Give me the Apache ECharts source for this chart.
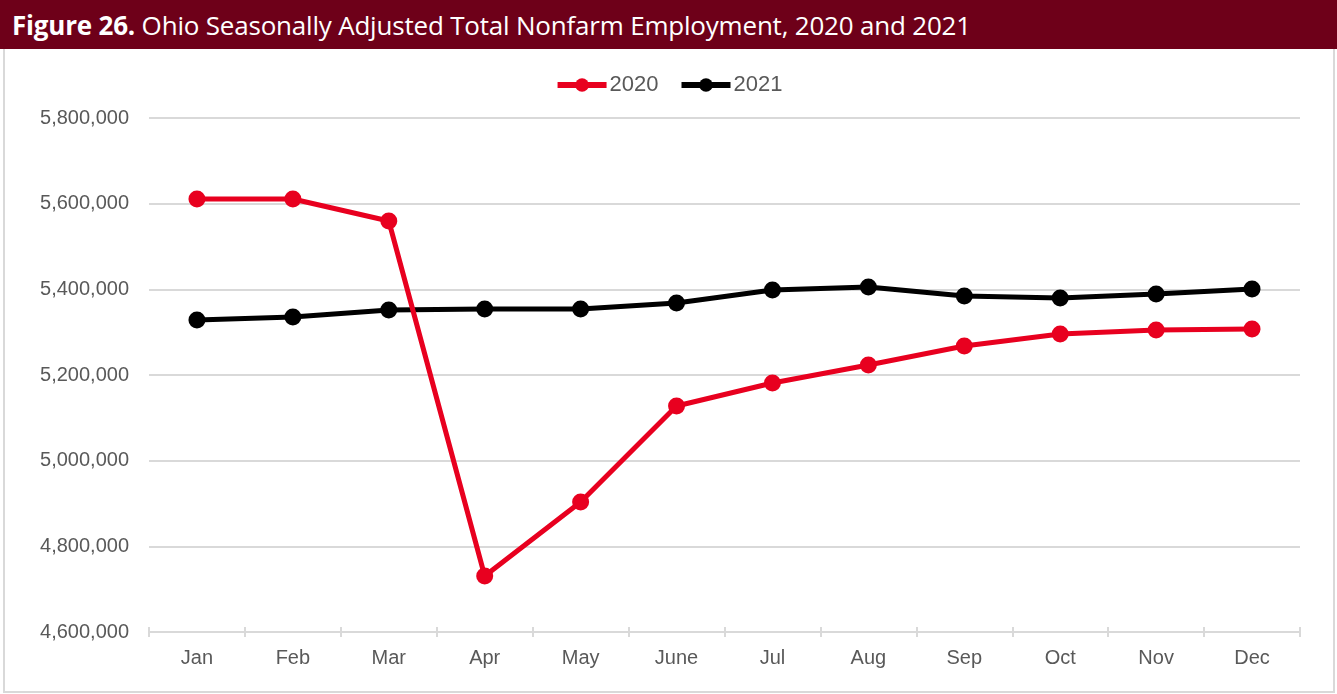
<!DOCTYPE html>
<html>
<head>
<meta charset="utf-8">
<script src="https://cdn.jsdelivr.net/npm/echarts@6/dist/echarts.min.js"></script>
<style>
  html, body { margin: 0; padding: 0; background: #fff; }
  #wrap { position: relative; width: 1337px; height: 694px; overflow: hidden; }
  #title {
    position: absolute; left: 0; top: 0; width: 1337px; height: 49px;
    background: #6E0019; color: #fff; box-sizing: border-box;
    padding-left: 12px; line-height: 50px;
    font-family: "Open Sans", "Noto Sans", sans-serif; font-size: 26px;
    letter-spacing: -0.2px; white-space: nowrap;
  }
  #title b { font-weight: 700; }
  #frame {
    position: absolute; left: 3px; top: 49px; width: 1328px; height: 642px;
    border: 2px solid #d9d9d9; border-top: none; box-sizing: content-box;
  }
  #chart { position: absolute; left: 0; top: 49px; width: 1337px; height: 645px; }
</style>
</head>
<body>
<div id="wrap">
  <div id="title"><b>Figure 26.</b> Ohio Seasonally Adjusted Total Nonfarm Employment, 2020 and 2021</div>
  <div id="frame"></div>
  <div id="chart"></div>
</div>
<script>
// Monthly nonfarm employment, Ohio (seasonally adjusted)
const months = ['Jan', 'Feb', 'Mar', 'Apr', 'May', 'June', 'Jul', 'Aug', 'Sep', 'Oct', 'Nov', 'Dec'];
const jobs2020 = [5611000, 5611000, 5559500, 4730700, 4903500, 5127600, 5181300, 5223400, 5267700, 5295700, 5305000, 5307400];
const jobs2021 = [5328400, 5335400, 5351800, 5354100, 5354100, 5368100, 5398400, 5405400, 5384400, 5379800, 5389100, 5400800];
const yTicks = { min: 4600000, max: 5800000, step: 200000 };

const chart = echarts.init(document.getElementById('chart'), null, { renderer: 'canvas' });
const labelFont = '"Liberation Sans", Arial, sans-serif';
const fmt = v => v.toLocaleString('en-US');

function lineSeries(name, data, color) {
  return {
    name, type: 'line', data,
    symbol: 'circle', symbolSize: 17,
    lineStyle: { color, width: 5 },
    itemStyle: { color },
    emphasis: { disabled: true },
    z: name === '2020' ? 3 : 2
  };
}

chart.setOption({
  animation: false,
  legend: {
    top: 20, left: 'center',
    itemWidth: 49, itemHeight: 17, itemGap: 20,
    textStyle: { color: '#595959', fontSize: 22, fontFamily: labelFont, padding: [0, 0, 0, -2] },
    lineStyle: { width: 6 },
    data: ['2020', '2021']
  },
  grid: { left: 149, right: 37, top: 69, bottom: 62, containLabel: false },
  xAxis: [
    {
      type: 'category', data: months, boundaryGap: true,
      axisLine: { lineStyle: { color: '#d9d9d9', width: 2 } },
      axisTick: { show: true, inside: false, length: 5, lineStyle: { color: '#d9d9d9', width: 2 } },
      axisLabel: { color: '#595959', fontSize: 20, fontFamily: labelFont, margin: 16 }
    },
    {
      type: 'category', data: months, boundaryGap: true, position: 'bottom',
      axisLine: { show: false },
      axisTick: { show: true, inside: true, length: 5, lineStyle: { color: '#d9d9d9', width: 2 } },
      axisLabel: { show: false }
    }
  ],
  yAxis: {
    type: 'value', min: yTicks.min, max: yTicks.max, interval: yTicks.step,
    axisLine: { show: false }, axisTick: { show: false },
    splitLine: { lineStyle: { color: '#d9d9d9', width: 2 } },
    axisLabel: { color: '#595959', fontSize: 20, fontFamily: labelFont, margin: 20, formatter: fmt }
  },
  series: [
    lineSeries('2020', jobs2020, '#E8001F'),
    lineSeries('2021', jobs2021, '#000000')
  ]
});
</script>
</body>
</html>
